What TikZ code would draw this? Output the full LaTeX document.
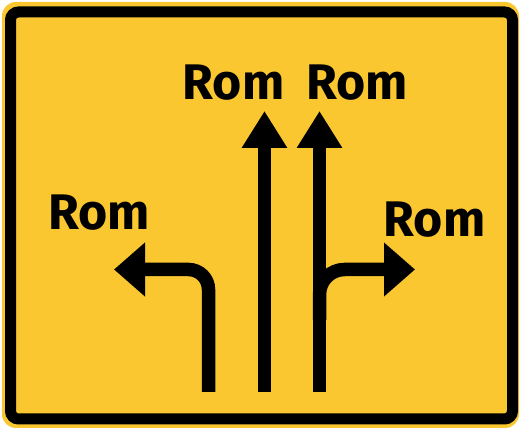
\documentclass[tikz,border=0pt]{standalone}
\usepackage{fontspec}
\setsansfont{Fira Sans}
\usetikzlibrary{arrows.meta}
\definecolor{signyellow}{RGB}{250,199,48}

\begin{document}
\begin{tikzpicture}[
						x=1pt, y=1pt,
						every node/.style={font=\sffamily\bfseries\fontsize{50}{50}\selectfont, inner sep=0pt, anchor=base},
						shaft/.style={line width=13.5pt},
						uphead/.style={-{Triangle[width=43pt,length=37pt]}},
						sidehead/.style={-{Triangle[width=52pt,length=31pt]}}
						]
						
						\useasboundingbox (0,0) rectangle (520,430);
						\fill[white] (0,0) rectangle (520,430);
						\fill[signyellow, rounded corners=14pt] (2,2) rectangle (519,428);
						\draw[line width=11pt, rounded corners=8pt] (10.5,11) rectangle (512.5,418);
						
						\node (romA) at (233.5,330) {Rom};
						\node (romB) at (357,330) {Rom};
						\node (romL) at (99,200) {Rom};
						\node (romR) at (434.5,193) {Rom};
						
						\coordinate (leftbase) at (208.5,38);
						\coordinate (lefttip) at (114,160.5);
						\coordinate (midbaseA) at (264.5,38);
						\coordinate (midtipA) at (264.5,319);
						\coordinate (midbaseB) at (319.5,38);
						\coordinate (midtipB) at (319.5,319);
						\coordinate (rightfork) at (319.5,110);
						\coordinate (righttip) at (415,160.5);
						
						\draw[shaft, sidehead, rounded corners=20pt] (leftbase) |- (lefttip);
						\draw[shaft, uphead] (midbaseA) -- (midtipA);
						\draw[shaft, uphead] (midbaseB) -- (midtipB);
						\draw[shaft, sidehead, rounded corners=25pt] (rightfork) |- (righttip);
						
					\end{tikzpicture}
\end{document}
